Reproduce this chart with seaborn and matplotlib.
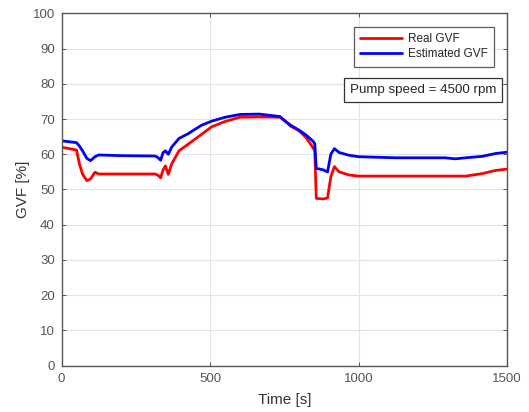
import matplotlib
matplotlib.use("Agg")
import matplotlib.pyplot as plt
import seaborn as sns
import pandas as pd

time_s = [0, 50, 60, 70, 85, 97, 112, 125, 200, 315, 325, 333, 341, 349, 359, 370,
          395, 425, 470, 505, 550, 600, 665, 735, 752, 770, 800, 822, 845, 852, 857,
          880, 895, 906, 918, 934, 968, 1000, 1125, 1290, 1325, 1360, 1415, 1460, 1500]
real_gvf = [62.0, 61.2, 57.2, 54.4, 52.5, 53.0, 54.9, 54.4, 54.4, 54.4, 54.0, 53.3, 55.5, 56.7, 54.3, 57.2,
            61.0, 62.8, 65.6, 67.8, 69.3, 70.5, 70.6, 70.5, 69.5, 68.0, 66.6, 64.8, 62.0, 61.0, 47.5,
            47.3, 47.6, 53.6, 56.5, 55.0, 54.1, 53.8, 53.8, 53.8, 53.8, 53.8, 54.5, 55.4, 55.8]
est_gvf = [63.8, 63.3, 62.3, 61.0, 58.8, 58.2, 59.3, 59.8, 59.6, 59.5, 59.0, 58.3, 60.4, 61.0, 60.0, 62.0,
           64.5, 65.8, 68.2, 69.4, 70.5, 71.3, 71.4, 70.7, 69.4, 68.3, 66.8, 65.5, 63.8, 63.0, 56.0,
           55.6, 55.0, 60.0, 61.6, 60.5, 59.7, 59.3, 59.0, 59.0, 58.7, 59.0, 59.4, 60.2, 60.6]
series_names = ["Real GVF", "Estimated GVF"]
x_ticks = [0, 500, 1000, 1500]
y_ticks = [0, 10, 20, 30, 40, 50, 60, 70, 80, 90, 100]

sns.set_style("white")
plt.rcParams['font.family'] = ['Liberation Sans', 'DejaVu Sans']

df = pd.DataFrame({
    "Time": time_s + time_s,
    "GVF": real_gvf + est_gvf,
    "Series": [series_names[0]] * len(time_s) + [series_names[1]] * len(time_s),
})

fig = plt.figure(figsize=(5.29, 4.12), dpi=100)
ax = fig.add_axes([0.1166, 0.1124, 0.8423, 0.8553])
sns.lineplot(data=df, x="Time", y="GVF", hue="Series", hue_order=series_names,
             palette={"Real GVF": "#ff0000", "Estimated GVF": "#0000ff"},
             linewidth=2.0, ax=ax, estimator=None, sort=False)

ax.set_xlim(0, 1500)
ax.set_ylim(0, 100)
ax.set_xticks(x_ticks)
ax.set_yticks(y_ticks)
ax.grid(True, color="#e3e3e3", linewidth=0.8)
ax.set_axisbelow(True)
for s in ax.spines.values():
    s.set_color("#555555")
    s.set_linewidth(1.0)
ax.tick_params(direction="in", length=3, width=0.7, colors="#555555",
               labelcolor="#555555", labelsize=9.5, top=True, right=True,
               bottom=True, left=True, pad=5)
ax.set_xlabel("Time [s]", fontsize=11, color="#333333", labelpad=6)
ax.set_ylabel("GVF [%]", fontsize=11, color="#333333", labelpad=2)

leg = ax.legend(loc="upper right", bbox_to_anchor=(0.970, 0.962), fontsize=8.5,
                frameon=True, fancybox=False, handlelength=3.5, borderpad=0.55,
                labelspacing=0.25, handletextpad=0.5, borderaxespad=0)
leg.get_frame().set_edgecolor("#333333")
leg.get_frame().set_linewidth(0.9)

ax.text(0.9897 - 0.0147, 0.782, "Pump speed = 4500 rpm", transform=ax.transAxes,
        ha="right", va="center", fontsize=9.6, color="#262626",
        bbox=dict(boxstyle="square,pad=0.45", facecolor="white",
                  edgecolor="#333333", linewidth=0.9))

fig.savefig("out.png", dpi=100)
